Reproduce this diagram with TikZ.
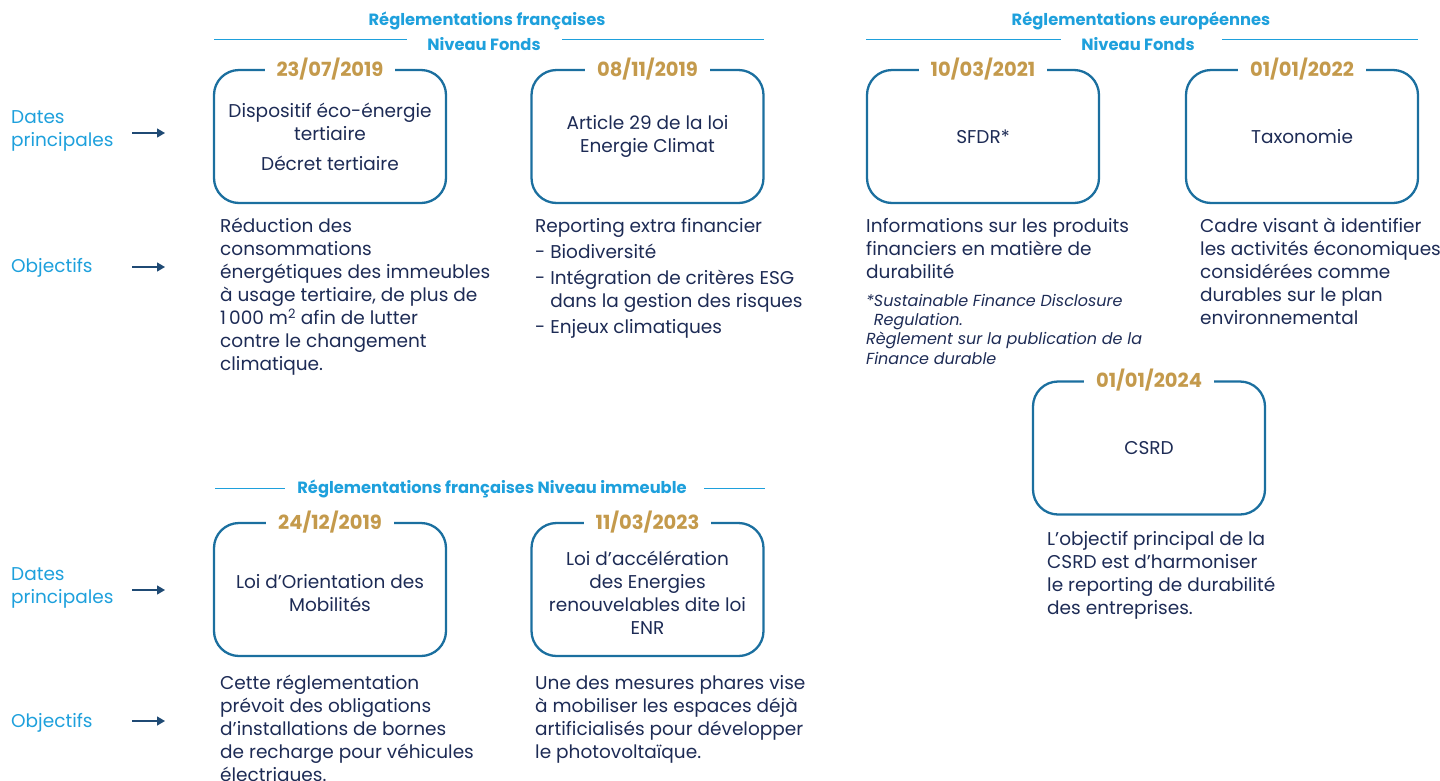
\documentclass[tikz,border=0pt]{standalone}
\usepackage{fontspec}
\setmainfont{Poppins}
\usetikzlibrary{arrows.meta}
\definecolor{hdrblue}{HTML}{1EA0DC}
\definecolor{boxblue}{HTML}{1B6F9F}
\definecolor{gold}{HTML}{C49A4C}
\definecolor{navy}{HTML}{1D2B55}
\definecolor{arrnavy}{HTML}{1F4A74}
\begin{document}
\begin{tikzpicture}[x=1pt,y=-1pt,
  regbox/.style={draw=boxblue,line width=2.3pt,rounded corners=25pt,
    minimum width=232pt,minimum height=133pt,inner sep=0pt,
    align=center,text=navy,font=\fontsize{18.5}{23}\selectfont},
  boxtxt/.style={inner sep=0pt,align=center,text=navy,
    font=\fontsize{18.5}{23}\selectfont},
  datelbl/.style={fill=white,inner xsep=12pt,inner ysep=2pt,text=gold,
    font=\fontsize{19.5}{22}\selectfont\bfseries},
  hdr/.style={text=hdrblue,inner sep=0pt,font=\fontsize{16.3}{20}\selectfont\bfseries},
  hdrline/.style={draw=hdrblue,line width=0.8pt},
  sidelbl/.style={text=hdrblue,anchor=west,align=left,inner sep=0pt,
    font=\fontsize{18.5}{23.5}\selectfont},
  obj/.style={text=navy,anchor=north west,align=left,inner sep=0pt,
    font=\fontsize{18.5}{23}\selectfont},
  note/.style={text=navy,anchor=north west,align=left,inner sep=0pt,
    font=\fontsize{16}{19.3}\selectfont\itshape},
  arr/.style={draw=arrnavy,line width=1.3pt,-{Triangle[length=8pt,width=9pt]}}]
\useasboundingbox (0,0) rectangle (1440,780);

% ---- side labels and arrows
\node[sidelbl] (l1) at (11,131) {Dates\\principales};
\node[sidelbl] (l2) at (11,268) {Objectifs};
\node[sidelbl] (l3) at (11,588) {Dates\\principales};
\node[sidelbl] (l4) at (11,723) {Objectifs};
\coordinate (a1s) at (132,133); \coordinate (a1e) at (165,133);
\coordinate (a2s) at (132,267); \coordinate (a2e) at (165,267);
\coordinate (a3s) at (132,590); \coordinate (a3e) at (165,590);
\coordinate (a4s) at (132,721); \coordinate (a4e) at (165,721);
\draw[arr] (a1s) -- (a1e);
\draw[arr] (a2s) -- (a2e);
\draw[arr] (a3s) -- (a3e);
\draw[arr] (a4s) -- (a4e);

% ---- section headers
\node[hdr] (h1a) at (487,21) {Réglementations françaises};
\node[hdr] (h1b) at (484,44) {Niveau Fonds};
\draw[hdrline] (214,39) -- (407,39);
\draw[hdrline] (562,39) -- (764,39);
\node[hdr] (h2a) at (1141,21) {Réglementations européennes};
\node[hdr] (h2b) at (1138,44) {Niveau Fonds};
\draw[hdrline] (866,39) -- (1061,39);
\draw[hdrline] (1222,39) -- (1418,39);
\node[hdr] (h3) at (492,489) {Réglementations françaises Niveau immeuble};
\draw[hdrline] (215,488) -- (285,488);
\draw[hdrline] (704,488) -- (765,488);

% ---- regulation boxes
\node[regbox] (b1) at (330,136.5) {Dispositif éco-énergie\\tertiaire\\[7pt]Décret tertiaire};
\node[regbox] (b2) at (647.5,136.5) {Article 29 de la loi\\Energie Climat};
\node[regbox] (b3) at (983,136.5) {SFDR*};
\node[regbox] (b4) at (1302,136.5) {Taxonomie};
\node[regbox] (b5) at (1149,448) {CSRD};
\node[regbox] (b6) at (330,589.5) {};
\node[regbox] (b7) at (647.5,589.5) {};
\node[boxtxt] (t6) at ([yshift=-3.5pt]b6.center) {Loi d’Orientation des\\Mobilités};
\node[boxtxt] (t7) at ([yshift=-3pt]b7.center) {Loi d’accélération\\des Energies\\renouvelables dite loi\\ENR};

% ---- dates on the top edges
\node[datelbl] (d1) at (b1.north) {23/07/2019};
\node[datelbl] (d2) at (b2.north) {08/11/2019};
\node[datelbl] (d3) at (b3.north) {10/03/2021};
\node[datelbl] (d4) at (b4.north) {01/01/2022};
\node[datelbl] (d5) at (b5.north) {01/01/2024};
\node[datelbl] (d6) at (b6.north) {24/12/2019};
\node[datelbl] (d7) at (b7.north) {11/03/2023};

% ---- objectives
\node[obj] (o1) at (220,218) {Réduction des\\consommations\\énergétiques des immeubles\\à usage tertiaire, de plus de\\1\,000 m\textsuperscript{2} afin de lutter\\contre le changement\\climatique.};
\node[obj] (o2) at (535,218) {Reporting extra financier\\[3.5pt]- Biodiversité\\[3pt]- Intégration de critères ESG\\\hphantom{- }dans la gestion des risques\\[3pt]- Enjeux climatiques};
\node[obj] (o3) at (866,218) {Informations sur les produits\\financiers en matière de\\durabilité};
\node[note] (n3) at (866,294) {*Sustainable Finance Disclosure\\\hphantom{*}Regulation.\\Règlement sur la publication de la\\Finance durable};
\node[obj] (o4) at (1200,218) {Cadre visant à identifier\\les activités économiques\\considérées comme\\durables sur le plan\\environnemental};
\node[obj] (o5) at (1047,531) {L’objectif principal de la\\CSRD est d’harmoniser\\le reporting de durabilité\\des entreprises.};
\node[obj] (o6) at (220,675) {Cette réglementation\\prévoit des obligations\\d’installations de bornes\\de recharge pour véhicules\\électriques.};
\node[obj] (o7) at (535,675) {Une des mesures phares vise\\à mobiliser les espaces déjà\\artificialisés pour développer\\le photovoltaïque.};
\end{tikzpicture}
\end{document}
